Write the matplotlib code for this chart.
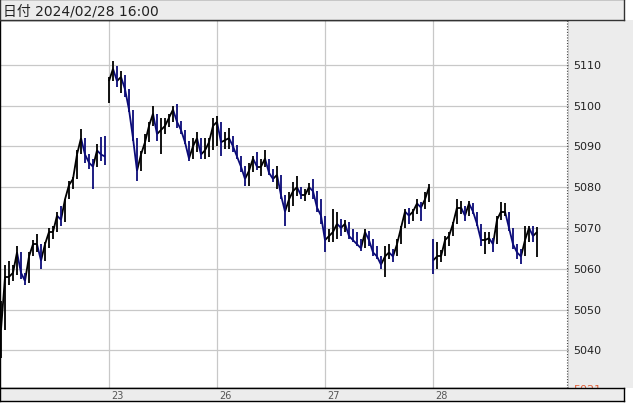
import numpy as np
import matplotlib
matplotlib.use("Agg")
import matplotlib.pyplot as plt
from matplotlib.collections import LineCollection
from matplotlib.transforms import blended_transform_factory

# ---- data (one bar every ~4 px) ----
closes = [5045, 5058, 5058, 5059, 5064, 5059, 5057, 5063, 5066, 5066,
          5062, 5066, 5069, 5069, 5073, 5072, 5077, 5080.5, 5082, 5088,
          5092, 5088, 5086, 5085, 5089, 5088, 5087.5,
          5106, 5109, 5106, 5107, 5104, 5099, 5092, 5084, 5088, 5091,
          5095, 5098, 5093, 5094, 5095, 5097, 5099, 5096, 5094, 5091,
          5087, 5090, 5092, 5088, 5089, 5091, 5095,
          5096, 5091, 5091.5, 5092, 5090, 5087.5, 5085, 5082, 5084, 5087,
          5085, 5085, 5087, 5083.5, 5082, 5083, 5078, 5074, 5077, 5079,
          5080, 5078, 5078, 5080, 5079, 5075, 5073,
          5067, 5068, 5069, 5071, 5070, 5071, 5068, 5067, 5066, 5065,
          5069, 5067, 5064, 5063, 5061, 5063, 5064, 5063, 5066, 5070,
          5074, 5073, 5074, 5076, 5075, 5077, 5080,
          5062, 5063, 5063, 5067, 5068, 5071, 5075, 5075, 5073, 5076,
          5074, 5071, 5067, 5067, 5067.5, 5066, 5072, 5074, 5074, 5070,
          5066, 5064, 5063, 5067, 5070, 5068, 5069]
highs = [5052, 5061, 5062, 5061, 5065.5, 5063, 5058.5, 5064, 5067, 5068.5,
         5066, 5066.5, 5070, 5070.5, 5074, 5075.4, 5077, 5081.6, 5082.5, 5089,
         5094.2, 5091.8, 5087.6, 5087, 5090.5, 5092.3, 5092.6,
         5107, 5110.8, 5109.8, 5108.5, 5107.5, 5102.8, 5097.9, 5089.8, 5088.8, 5093,
         5096, 5100, 5097.9, 5097, 5097, 5097.9, 5100, 5100.4, 5096.2, 5093.7,
         5091.3, 5092, 5093.5, 5092, 5092, 5092, 5097,
         5097.5, 5094.4, 5093.4, 5094.4, 5092.6, 5090.2, 5087.7, 5085.2, 5085.9, 5087.7,
         5088.5, 5086.9, 5089.2, 5086, 5084.4, 5085.2, 5082.8, 5077.9, 5078.8, 5081.2,
         5082.8, 5080, 5079.5, 5081, 5082, 5077.9, 5077,
         5072.2, 5069.7, 5074.6, 5073.8, 5072.2, 5072, 5071.4, 5069.7, 5069, 5067.3,
         5069.7, 5069.3, 5067.3, 5065.6, 5063.2, 5065.6, 5066, 5064.8, 5067.3, 5070.5,
         5074.6, 5075, 5074.6, 5077.1, 5076.3, 5078.7, 5080.8,
         5067.3, 5066.5, 5064.5, 5068, 5069, 5071.4, 5077.1, 5076.7, 5075.4, 5076.7,
         5075.9, 5073.8, 5070.5, 5068.9, 5069, 5067.5, 5073, 5076.3, 5076, 5074,
         5070, 5066, 5064.8, 5070.5, 5070.5, 5070.5, 5070.1]
lows = [5038, 5048, 5056, 5057, 5058.5, 5057.5, 5056, 5056.5, 5063, 5064,
        5060, 5063, 5065, 5067.3, 5070, 5070.5, 5071.5, 5079, 5079.5, 5082,
        5088.6, 5086, 5084.4, 5079.5, 5085, 5086.5, 5085.5,
        5100.5, 5106.9, 5104.5, 5103, 5102, 5098.4, 5091.3, 5081.6, 5084.9, 5089.8,
        5091, 5095, 5091.3, 5088, 5093, 5094.7, 5096, 5094.5, 5093, 5090.6,
        5086.4, 5087, 5088.5, 5087, 5087, 5087.5, 5089,
        5090, 5087.6, 5089.3, 5089.3, 5088.5, 5086.9, 5083.6, 5080.3, 5080.3, 5083.6,
        5084.3, 5082.8, 5084.9, 5083, 5081.2, 5079.5, 5077.1, 5070.5, 5074.6, 5075.4,
        5077.9, 5077, 5076.7, 5078, 5077, 5073.8, 5071,
        5064.1, 5066.5, 5066.5, 5067.3, 5068.1, 5069, 5067.3, 5066.5, 5065.6, 5064.4,
        5065, 5065.6, 5063.2, 5062.4, 5060, 5057.9, 5062.4, 5061.6, 5063, 5066,
        5070, 5071, 5071.7, 5073.4, 5071.8, 5074.6, 5076.3,
        5058.6, 5060, 5061.6, 5063, 5065.6, 5068, 5071, 5073.4, 5071.8, 5073,
        5073.4, 5070.5, 5065.6, 5063.6, 5066, 5064.1, 5066, 5072, 5073, 5069.3,
        5064.8, 5062.4, 5061.2, 5063, 5066.5, 5066.5, 5062.8]

# bars that open with a price gap, and their opening price
gap_starts = [0, 27, 108]
gap_opens = [5039, 5100.5, 5066]

day_labels = ["23", "26", "27", "28"]
day_first_bar = [27, 54, 81, 108]

price_ticks = [5040, 5050, 5060, 5070, 5080, 5090, 5100, 5110]
header_text = "日付 2024/02/28 16:00"
marker_text = "5021"

# ---- layout in pixels ----
W, H = 633, 406


def frac(x0, y0, x1, y1):
    return [x0 / W, 1 - y1 / H, (x1 - x0) / W, (y1 - y0) / H]


UP = "#000000"
DOWN = "#0b0b78"
PANEL = "#ececec"
GRID = "#c8c8c8"

fig = plt.figure(figsize=(W / 100, H / 100), dpi=100)
fig.patch.set_facecolor("white")

ax = fig.add_axes(frac(0, 21, 569, 389))
ylo, yhi = 5030.76, 5120.96
ax.set_xlim(-0.25, 142)
ax.set_ylim(ylo, yhi)
ax.set_xticks([])
ax.set_yticks([])
for s in ax.spines.values():
    s.set_color("black")
    s.set_linewidth(1.0)

for p in price_ticks:
    ax.axhline(p, color=GRID, lw=0.9, zorder=0)
for b in day_first_bar:
    ax.axvline(b - 0.1, color=GRID, lw=0.9, zorder=0)

n = len(closes)
x = np.arange(n)
opens = [closes[i - 1] if i > 0 else closes[0] for i in range(n)]
for b, o in zip(gap_starts, gap_opens):
    opens[b] = o

segs, cols, wick_cols = [], [], []
for i in range(n):
    c = UP if closes[i] >= opens[i] else DOWN
    wick_cols.append(c)
    if i not in gap_starts:
        segs.append([(x[i - 1], closes[i - 1]), (x[i], closes[i])])
        cols.append(c)

ax.add_collection(LineCollection(segs, colors=cols, linewidths=1.3, zorder=3))
lo = [min(lows[i], opens[i], closes[i]) for i in range(n)]
hi = [max(highs[i], opens[i], closes[i]) for i in range(n)]
ax.vlines(x, lo, hi, colors=wick_cols, linewidth=1.3, zorder=3)

ax.axvline(141.4, color="#444444", lw=0.8, ls=(0, (1, 1.5)), zorder=4)

# right price panel
axr = fig.add_axes(frac(569, 21, 633, 389))
axr.set_facecolor(PANEL)
axr.set_ylim(ylo, yhi)
axr.set_xlim(0, 1)
axr.set_xticks([])
axr.set_yticks([])
for s in axr.spines.values():
    s.set_visible(False)
tr = blended_transform_factory(axr.transAxes, axr.transData)
for p in price_ticks:
    axr.text(0.06, p, str(p), transform=tr, ha="left", va="center",
             fontsize=8, color="#222222", family="DejaVu Sans")
axr.text(0.06, ylo - 0.15, marker_text, transform=tr, ha="left", va="center",
         fontsize=8, color="#e0603a", family="DejaVu Sans", clip_on=True)

# header bar
axh = fig.add_axes(frac(0, 0, 624, 21))
axh.set_facecolor(PANEL)
axh.set_xticks([])
axh.set_yticks([])
for s in axh.spines.values():
    s.set_color("#333333")
    s.set_linewidth(1.0)
axh.text(3 / 624, 0.47, header_text, transform=axh.transAxes, ha="left", va="center",
         fontsize=10, color="#222222", family=["DejaVu Sans", "Noto Sans CJK JP"])

# bottom date bar
axb = fig.add_axes(frac(0, 389, 624, 402))
axb.set_facecolor(PANEL)
axb.set_xlim(ax.get_xlim()[0], ax.get_xlim()[0] + (ax.get_xlim()[1] - ax.get_xlim()[0]) * 624 / 569)
axb.set_ylim(0, 1)
axb.set_xticks([])
axb.set_yticks([])
for s in axb.spines.values():
    s.set_color("black")
    s.set_linewidth(1.0)
for lab, b in zip(day_labels, day_first_bar):
    axb.text(b + 0.5, 0.45, lab, ha="left", va="center", fontsize=7, color="#555555",
             family="DejaVu Sans")

fig.savefig("out.png", dpi=100)
